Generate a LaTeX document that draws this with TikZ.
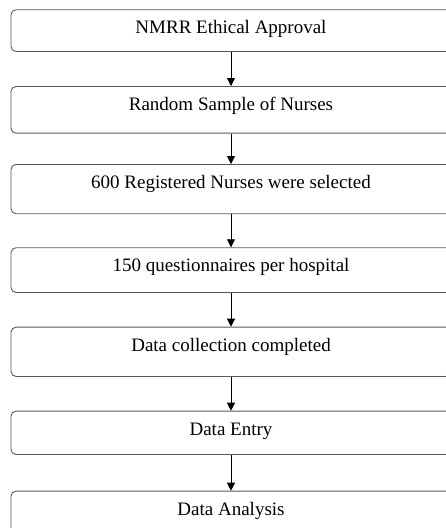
\documentclass[tikz,border=0pt]{standalone}
\usepackage{fontspec}
\setmainfont{Liberation Serif}
\usetikzlibrary{arrows.meta}

\tikzset{
  stepbox/.style={draw=black!65, line width=0.9pt, rounded corners=5pt, anchor=north,
    minimum width=440pt, inner xsep=0pt, inner ysep=0pt, text height=24pt,
    font=\fontsize{19}{22}\selectfont},
  flow/.style={line width=0.8pt, -{Triangle[width=8pt,length=8pt]}}
}

\begin{document}
\begin{tikzpicture}[x=1pt,y=-1pt]
			%%%%% START %%%%%
			\useasboundingbox (0,0) rectangle (446,528);
			
			\node[stepbox, text depth=17.7pt] (approval) at (231,9.3) {NMRR Ethical Approval};
			\node[stepbox, text depth=22.7pt] (sample) at (231,86) {Random Sample of Nurses};
			\node[stepbox, text depth=25.3pt] (selected) at (231,164) {600 Registered Nurses were selected};
			\node[stepbox, text depth=20.7pt] (perhosp) at (231,247.3) {150 questionnaires per hospital};
			\node[stepbox, text depth=25.3pt] (collect) at (231,326.7) {Data collection completed};
			\node[stepbox, text depth=19.3pt] (entry) at (231,410.7) {Data Entry};
			\node[stepbox, text depth=26pt] (analysis) at (231,490.7) {Data Analysis};
			
			\draw[flow] (approval.south) -- (sample.north);
			\draw[flow] (sample.south) -- (selected.north);
			\draw[flow] (selected.south) -- (perhosp.north);
			\draw[flow] (perhosp.south) -- (collect.north);
			\draw[flow] (collect.south) -- (entry.north);
			\draw[flow] (entry.south) -- (analysis.north);
			%%%%% END %%%%%
\end{tikzpicture}
\end{document}
